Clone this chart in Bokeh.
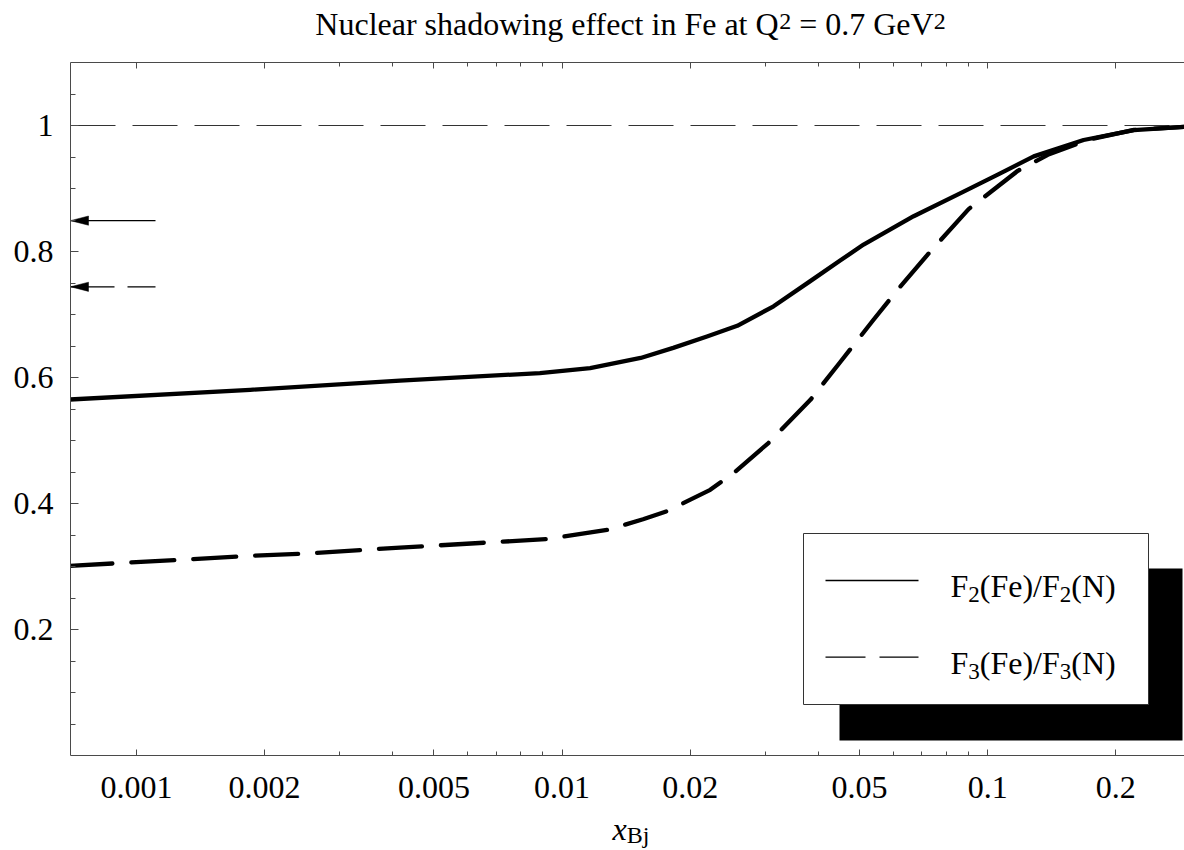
import math
from bokeh.plotting import figure
from bokeh.layouts import column
from bokeh.models import LogAxis, FixedTicker, Range1d, Label
from bokeh.embed import file_html
from bokeh.resources import INLINE

# ---------------- data ----------------
x_f2 = [0.000696, 0.00185, 0.00416, 0.00887, 0.01164, 0.0153, 0.01825, 0.0219, 0.0258,
        0.0314, 0.0383, 0.0451, 0.0511, 0.0670, 0.0878, 0.1056, 0.1283, 0.168, 0.2206, 0.291]
y_f2 = [0.565, 0.5805, 0.595, 0.607, 0.615, 0.631, 0.647, 0.665, 0.682,
        0.713, 0.753, 0.786, 0.811, 0.856, 0.895, 0.922, 0.951, 0.977, 0.9925, 0.998]
x_f3 = [0.000696, 0.001875, 0.002417, 0.00416, 0.00922, 0.01276, 0.0155, 0.01767, 0.02229,
        0.02526, 0.03053, 0.03833, 0.0451, 0.05392, 0.0614, 0.0722, 0.0902, 0.1177, 0.1384,
        0.1719, 0.2206, 0.291]
y_f3 = [0.301, 0.317, 0.320, 0.330, 0.3435, 0.358, 0.375, 0.388, 0.4217,
        0.448, 0.496, 0.5646, 0.625, 0.6916, 0.7392, 0.7948, 0.8673, 0.9281, 0.9535,
        0.9773, 0.993, 0.998]

arrow_levels = [0.849, 0.744]       # F2 (solid) and F3 (dashed) limits
reference_level = 1.0

x_major_ticks = [0.001, 0.002, 0.005, 0.01, 0.02, 0.05, 0.1, 0.2]
x_tick_labels = ["0.001", "0.002", "0.005", "0.01", "0.02", "0.05", "0.1", "0.2"]
x_minor_ticks = [0.003, 0.004, 0.006, 0.007, 0.008, 0.009,
                 0.03, 0.04, 0.06, 0.07, 0.08, 0.09]
y_major_ticks = [0.2, 0.4, 0.6, 0.8, 1.0]
y_tick_labels = ["0.2", "0.4", "0.6", "0.8", "1"]
y_minor_ticks = [0.05, 0.1, 0.15, 0.25, 0.3, 0.35, 0.45, 0.5, 0.55, 0.65, 0.7, 0.75,
                 0.85, 0.9, 0.95, 1.05]

title_parts = [("Nuclear shadowing effect in Fe at Q", "n"), ("2", "sup"),
               (" = 0.7 GeV", "n"), ("2", "sup")]
legend_f2 = [("F", "n"), ("2", "sub"), ("(Fe)/F", "n"), ("2", "sub"), ("(N)", "n")]
legend_f3 = [("F", "n"), ("3", "sub"), ("(Fe)/F", "n"), ("3", "sub"), ("(N)", "n")]
xlabel_parts = [("x", "it"), ("Bj", "sub")]

# ---------------- layout ----------------
XMIN, XMAX = 0.0007, 0.29
YMIN, YMAX = 0.0, 1.1
W, H = 1184, 850
FL, FR, FT, FB = 70, 1184, 62, 755      # frame edges in page pixels
XL_TOP = 812                            # top of the strip that holds the x label
FONT = "Liberation Serif"
FS = 32
BASE_CORR = 0.4                         # label baseline correction (fraction of size)


def strip_fig(h):
    # frames of a column are aligned, so the strip's frame spans FL..W
    f = figure(width=W, height=h, x_range=Range1d(FL, W), y_range=Range1d(h, 0),
               output_backend="svg", toolbar_location=None, min_border=0,
               min_border_left=FL, x_axis_location=None, y_axis_location=None)
    f.grid.visible = False
    f.outline_line_color = None
    return f


top = strip_fig(FT)
bot = strip_fig(H - XL_TOP)

p = figure(frame_width=FR - FL, frame_height=FB - FT, x_axis_type="log",
           x_range=Range1d(XMIN, XMAX), y_range=Range1d(YMIN, YMAX),
           output_backend="svg", toolbar_location=None,
           min_border_left=FL, min_border_right=0,
           min_border_top=0, min_border_bottom=XL_TOP - FB)
p.grid.visible = False
p.outline_line_color = None


def px_to_x(cx):
    lo, hi = math.log10(XMIN), math.log10(XMAX)
    return 10 ** (lo + (cx - FL) / (FR - FL) * (hi - lo))


def py_to_y(cy):
    return YMAX - (cy - FT) / (FB - FT) * (YMAX - YMIN)


AX = "#4a4a4a"


def style_axis(ax, tin, tmin):
    ax.axis_line_color = AX
    ax.axis_line_width = 1
    ax.major_tick_line_color = AX
    ax.minor_tick_line_color = AX
    ax.major_tick_in = tin
    ax.major_tick_out = 0
    ax.minor_tick_in = tmin
    ax.minor_tick_out = 0
    ax.major_label_text_font = FONT
    ax.major_label_text_font_size = f"{FS}px"
    ax.major_label_text_color = "black"


xb = p.xaxis[0]
xb.ticker = FixedTicker(ticks=x_major_ticks, minor_ticks=x_minor_ticks)
xb.major_label_overrides = dict(zip(x_major_ticks, x_tick_labels))
style_axis(xb, 6, 4)
xb.major_label_standoff = 21

xt = LogAxis(ticker=FixedTicker(ticks=x_major_ticks, minor_ticks=x_minor_ticks))
style_axis(xt, 6, 4)
xt.major_label_overrides = {t: "" for t in x_major_ticks}
xt.major_label_text_font_size = "0px"
xt.major_label_standoff = 0
p.add_layout(xt, "above")

yl = p.yaxis[0]
yl.ticker = FixedTicker(ticks=y_major_ticks, minor_ticks=y_minor_ticks)
yl.major_label_overrides = dict(zip(y_major_ticks, y_tick_labels))
style_axis(yl, 8, 5)
yl.major_label_standoff = 17

# reference line at 1
p.line([XMIN, XMAX], [reference_level, reference_level], line_color="#333333",
       line_width=1.2, line_dash="45 17")

# curves
p.line(x_f2, y_f2, line_color="black", line_width=4.3, line_join="round")
p.line(x_f3, y_f3, line_color="black", line_width=4.3, line_dash="43 19",
       line_cap="round", line_join="round")

# arrows at the left edge
tail_x = px_to_x(FL + 85)
head_x = px_to_x(FL + 18)
hh = 4.6 * (YMAX - YMIN) / (FB - FT)
for lvl, dash in zip(arrow_levels, ["solid", "44 13"]):
    p.line([XMIN, tail_x], [lvl, lvl], line_color="black", line_width=1.3, line_dash=dash)
p.patches([[XMIN, head_x, head_x] for _ in arrow_levels],
          [[lvl, lvl + hh, lvl - hh] for lvl in arrow_levels],
          fill_color="black", line_color="black", line_width=0.5)

# legend box with shadow (drawn as glyphs, above the curves)
p.quad(left=px_to_x(839), right=px_to_x(1182), top=py_to_y(568), bottom=py_to_y(740),
       fill_color="black", line_color=None)
p.quad(left=px_to_x(803), right=px_to_x(1148), top=py_to_y(533), bottom=py_to_y(704),
       fill_color="white", line_color="#333333", line_width=1)
p.line([px_to_x(825), px_to_x(918)], [py_to_y(580)] * 2, line_color="black", line_width=1.3)
p.line([px_to_x(825), px_to_x(918)], [py_to_y(656.7)] * 2, line_color="black",
       line_width=1.3, line_dash="40 14")

# Times / Liberation Serif advance widths (em)
WID = {'N': .722, 'u': .5, 'c': .444, 'l': .278, 'e': .444, 'a': .444, 'r': .333, ' ': .25,
       's': .389, 'h': .5, 'd': .5, 'o': .5, 'w': .722, 'i': .278, 'n': .5, 'g': .5,
       'f': .333, 't': .278, 'F': .556, 'Q': .722, '=': .564, '.': .25, 'G': .722,
       'V': .722, '(': .333, ')': .333, '/': .278, 'B': .667, 'j': .278, 'x': .444}


def tw(s, size):
    return sum(WID.get(ch, .5) for ch in s) * size


def rich(fig, parts, x0, base, to_x, to_y, align="left", small=24, shift=5):
    sizes = [FS if kind in ("n", "it") else small for _, kind in parts]
    total = sum(tw(t, s) for (t, _), s in zip(parts, sizes))
    cx = x0 - total / 2 if align == "center" else x0
    for (txt, kind), sz in zip(parts, sizes):
        dy = -shift if kind == "sup" else (shift if kind == "sub" else 0)
        lead = len(txt) - len(txt.lstrip(" "))
        cx += tw(" " * lead, sz)
        body = txt.lstrip(" ")
        lab = Label(x=to_x(cx), y=to_y(base + dy - BASE_CORR * sz), text=body,
                    text_font=FONT, text_font_size=f"{sz}px", text_color="black",
                    text_align="left", text_baseline="alphabetic",
                    text_font_style="italic" if kind == "it" else "normal")
        fig.add_layout(lab)
        cx += tw(body, sz)


ident = lambda v: v
rich(top, title_parts, 630, 36, ident, ident, align="center", small=24, shift=5)
rich(p, legend_f2, 950, 598, px_to_x, py_to_y, small=23, shift=5)
rich(p, legend_f3, 950, 675, px_to_x, py_to_y, small=23, shift=5)
rich(bot, xlabel_parts, 612, 841, ident, lambda v: v - XL_TOP, small=24, shift=3)

layout = column(top, p, bot, spacing=0)
open("out.html", "w").write(file_html(layout, INLINE))
